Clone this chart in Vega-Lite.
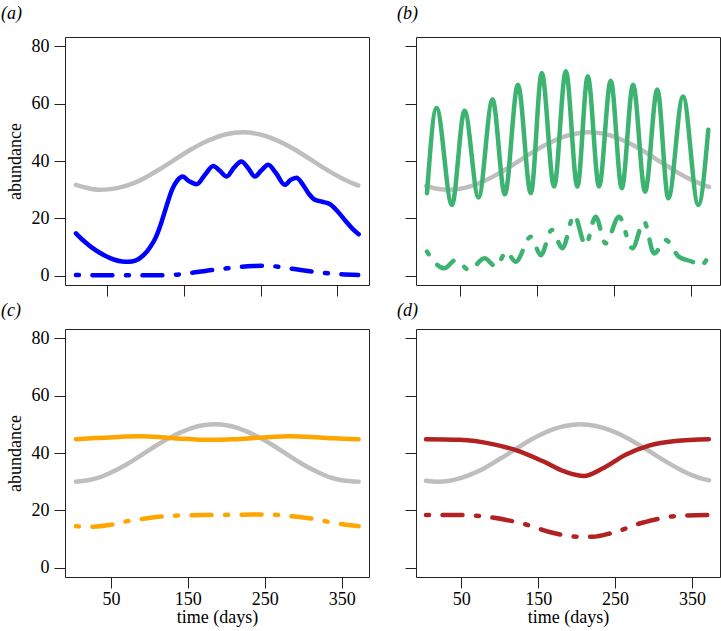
{
  "$schema": "https://vega.github.io/schema/vega-lite/v6.json",
  "padding": {"left": 0, "top": 4, "right": 0, "bottom": 0},
  "background": "white",
  "datasets": {
    "a": [
      {"t": 10, "v": 31.7, "s": "g"}, {"t": 25, "v": 30.6, "s": "g"}, {"t": 40, "v": 30.0, "s": "g"}, {"t": 55, "v": 30.2, "s": "g"}, {"t": 70, "v": 31.0, "s": "g"}, {"t": 85, "v": 32.3, "s": "g"}, {"t": 100, "v": 34.2, "s": "g"}, {"t": 115, "v": 36.5, "s": "g"}, {"t": 130, "v": 39.0, "s": "g"}, {"t": 145, "v": 41.6, "s": "g"}, {"t": 160, "v": 44.1, "s": "g"}, {"t": 175, "v": 46.3, "s": "g"}, {"t": 190, "v": 48.0, "s": "g"}, {"t": 205, "v": 49.3, "s": "g"}, {"t": 227, "v": 50.0, "s": "g"}, {"t": 250, "v": 49.2, "s": "g"}, {"t": 265, "v": 47.9, "s": "g"}, {"t": 280, "v": 46.1, "s": "g"}, {"t": 295, "v": 43.9, "s": "g"}, {"t": 310, "v": 41.4, "s": "g"}, {"t": 325, "v": 38.8, "s": "g"}, {"t": 340, "v": 36.3, "s": "g"}, {"t": 355, "v": 34.1, "s": "g"}, {"t": 370, "v": 32.2, "s": "g"}, {"t": 377, "v": 31.5, "s": "g"},
      {"t": 10, "v": 14.8, "s": "s"}, {"t": 20, "v": 12.2, "s": "s"}, {"t": 30, "v": 10.0, "s": "s"}, {"t": 40, "v": 8.2, "s": "s"}, {"t": 50, "v": 6.7, "s": "s"}, {"t": 60, "v": 5.6, "s": "s"}, {"t": 70, "v": 5.0, "s": "s"}, {"t": 78, "v": 4.9, "s": "s"}, {"t": 88, "v": 5.4, "s": "s"}, {"t": 97, "v": 7.0, "s": "s"}, {"t": 106, "v": 9.8, "s": "s"}, {"t": 114, "v": 13.5, "s": "s"}, {"t": 121, "v": 18.5, "s": "s"}, {"t": 128, "v": 24.5, "s": "s"}, {"t": 135, "v": 30.0, "s": "s"}, {"t": 142, "v": 33.3, "s": "s"}, {"t": 148.7, "v": 34.6, "s": "s"}, {"t": 157, "v": 33.0, "s": "s"}, {"t": 167, "v": 31.9, "s": "s"}, {"t": 178, "v": 35.3, "s": "s"}, {"t": 188.5, "v": 38.3, "s": "s"}, {"t": 197, "v": 36.6, "s": "s"}, {"t": 206, "v": 34.6, "s": "s"}, {"t": 215, "v": 37.5, "s": "s"}, {"t": 225, "v": 39.8, "s": "s"}, {"t": 234, "v": 37.5, "s": "s"}, {"t": 242.6, "v": 34.6, "s": "s"}, {"t": 251, "v": 36.7, "s": "s"}, {"t": 260, "v": 38.7, "s": "s"}, {"t": 270, "v": 35.8, "s": "s"}, {"t": 281.6, "v": 31.7, "s": "s"}, {"t": 289, "v": 33.4, "s": "s"}, {"t": 296.7, "v": 34.2, "s": "s"}, {"t": 305, "v": 31.8, "s": "s"}, {"t": 313, "v": 28.5, "s": "s"}, {"t": 320, "v": 26.6, "s": "s"}, {"t": 330, "v": 25.8, "s": "s"}, {"t": 340, "v": 25.0, "s": "s"}, {"t": 350, "v": 22.5, "s": "s"}, {"t": 360, "v": 19.3, "s": "s"}, {"t": 370, "v": 16.3, "s": "s"}, {"t": 377.6, "v": 14.5, "s": "s"},
      {"t": 10, "v": 0.3, "s": "d"}, {"t": 40, "v": 0.2, "s": "d"}, {"t": 80, "v": 0.2, "s": "d"}, {"t": 120, "v": 0.2, "s": "d"}, {"t": 140, "v": 0.4, "s": "d"}, {"t": 160, "v": 1.0, "s": "d"}, {"t": 180, "v": 1.8, "s": "d"}, {"t": 200, "v": 2.4, "s": "d"}, {"t": 220, "v": 3.0, "s": "d"}, {"t": 240, "v": 3.4, "s": "d"}, {"t": 258, "v": 3.5, "s": "d"}, {"t": 280, "v": 2.9, "s": "d"}, {"t": 300, "v": 2.1, "s": "d"}, {"t": 320, "v": 1.4, "s": "d"}, {"t": 344, "v": 0.7, "s": "d"}, {"t": 377, "v": 0.3, "s": "d"}
    ],
    "b": [
      {"t": 5.5, "v": 31.3, "s": "g"}, {"t": 20, "v": 30.3, "s": "g"}, {"t": 35, "v": 30.0, "s": "g"}, {"t": 50, "v": 30.3, "s": "g"}, {"t": 65, "v": 31.3, "s": "g"}, {"t": 80, "v": 32.9, "s": "g"}, {"t": 95, "v": 34.9, "s": "g"}, {"t": 110, "v": 37.2, "s": "g"}, {"t": 125, "v": 39.8, "s": "g"}, {"t": 140, "v": 42.4, "s": "g"}, {"t": 155, "v": 44.8, "s": "g"}, {"t": 170, "v": 46.8, "s": "g"}, {"t": 185, "v": 48.5, "s": "g"}, {"t": 200, "v": 49.5, "s": "g"}, {"t": 217, "v": 50.0, "s": "g"}, {"t": 230, "v": 49.8, "s": "g"}, {"t": 245, "v": 48.9, "s": "g"}, {"t": 260, "v": 47.4, "s": "g"}, {"t": 275, "v": 45.5, "s": "g"}, {"t": 290, "v": 43.2, "s": "g"}, {"t": 305, "v": 40.6, "s": "g"}, {"t": 320, "v": 38.1, "s": "g"}, {"t": 335, "v": 35.6, "s": "g"}, {"t": 350, "v": 33.5, "s": "g"}, {"t": 365, "v": 31.8, "s": "g"}, {"t": 373.4, "v": 31.0, "s": "g"},
      {"t": 6.8, "v": 28.8, "s": "s"}, {"t": 19.2, "v": 58.5, "s": "s"}, {"t": 39.2, "v": 24.7, "s": "s"}, {"t": 55.6, "v": 57.5, "s": "s"}, {"t": 73.8, "v": 27.3, "s": "s"}, {"t": 92, "v": 61.4, "s": "s"}, {"t": 108, "v": 28.4, "s": "s"}, {"t": 125, "v": 66.6, "s": "s"}, {"t": 141.8, "v": 28.8, "s": "s"}, {"t": 156, "v": 70.7, "s": "s"}, {"t": 172, "v": 31.1, "s": "s"}, {"t": 187.3, "v": 71.3, "s": "s"}, {"t": 202.3, "v": 31.1, "s": "s"}, {"t": 215.8, "v": 69.5, "s": "s"}, {"t": 230.5, "v": 31.1, "s": "s"}, {"t": 245.7, "v": 68.0, "s": "s"}, {"t": 260, "v": 30.5, "s": "s"}, {"t": 274.7, "v": 66.6, "s": "s"}, {"t": 290.3, "v": 29.3, "s": "s"}, {"t": 306.2, "v": 64.9, "s": "s"}, {"t": 320.5, "v": 27.0, "s": "s"}, {"t": 339.6, "v": 62.5, "s": "s"}, {"t": 359.5, "v": 24.7, "s": "s"}, {"t": 372.5, "v": 50.9, "s": "s"},
      {"t": 6.8, "v": 8.4, "s": "d"}, {"t": 29.2, "v": 2.6, "s": "d"}, {"t": 44, "v": 5.5, "s": "d"}, {"t": 62, "v": 2.0, "s": "d"}, {"t": 81.5, "v": 6.1, "s": "d"}, {"t": 96.6, "v": 3.2, "s": "d"}, {"t": 110, "v": 8.4, "s": "d"}, {"t": 122, "v": 4.9, "s": "d"}, {"t": 141.8, "v": 13.6, "s": "d"}, {"t": 154.8, "v": 7.2, "s": "d"}, {"t": 169, "v": 16.0, "s": "d"}, {"t": 183, "v": 9.6, "s": "d"}, {"t": 198, "v": 21.2, "s": "d"}, {"t": 213, "v": 10.7, "s": "d"}, {"t": 226, "v": 20.6, "s": "d"}, {"t": 239, "v": 11.3, "s": "d"}, {"t": 256.4, "v": 20.6, "s": "d"}, {"t": 273.7, "v": 9.6, "s": "d"}, {"t": 288.9, "v": 18.9, "s": "d"}, {"t": 302, "v": 7.8, "s": "d"}, {"t": 317, "v": 12.5, "s": "d"}, {"t": 334.4, "v": 6.6, "s": "d"}, {"t": 351.7, "v": 4.9, "s": "d"}, {"t": 362, "v": 3.5, "s": "d"}, {"t": 372.5, "v": 6.6, "s": "d"}
    ],
    "c": [
      {"t": 4.5, "v": 30.0, "s": "g"}, {"t": 20, "v": 30.5, "s": "g"}, {"t": 35, "v": 31.5, "s": "g"}, {"t": 50, "v": 33.2, "s": "g"}, {"t": 65, "v": 35.2, "s": "g"}, {"t": 80, "v": 37.6, "s": "g"}, {"t": 95, "v": 40.2, "s": "g"}, {"t": 110, "v": 42.8, "s": "g"}, {"t": 125, "v": 45.1, "s": "g"}, {"t": 140, "v": 47.1, "s": "g"}, {"t": 155, "v": 48.7, "s": "g"}, {"t": 170, "v": 49.7, "s": "g"}, {"t": 185, "v": 50.0, "s": "g"}, {"t": 200, "v": 49.7, "s": "g"}, {"t": 215, "v": 48.7, "s": "g"}, {"t": 230, "v": 47.1, "s": "g"}, {"t": 245, "v": 45.1, "s": "g"}, {"t": 260, "v": 42.8, "s": "g"}, {"t": 275, "v": 40.2, "s": "g"}, {"t": 290, "v": 37.6, "s": "g"}, {"t": 305, "v": 35.2, "s": "g"}, {"t": 320, "v": 33.2, "s": "g"}, {"t": 335, "v": 31.5, "s": "g"}, {"t": 350, "v": 30.5, "s": "g"}, {"t": 372, "v": 30.0, "s": "g"},
      {"t": 4.5, "v": 44.8, "s": "s"}, {"t": 30, "v": 45.2, "s": "s"}, {"t": 60, "v": 45.6, "s": "s"}, {"t": 88, "v": 45.8, "s": "s"}, {"t": 115, "v": 45.5, "s": "s"}, {"t": 140, "v": 45.0, "s": "s"}, {"t": 165, "v": 44.65, "s": "s"}, {"t": 187, "v": 44.6, "s": "s"}, {"t": 210, "v": 44.8, "s": "s"}, {"t": 235, "v": 45.2, "s": "s"}, {"t": 258, "v": 45.6, "s": "s"}, {"t": 282, "v": 45.8, "s": "s"}, {"t": 310, "v": 45.6, "s": "s"}, {"t": 340, "v": 45.1, "s": "s"}, {"t": 372, "v": 44.8, "s": "s"},
      {"t": 4.5, "v": 14.5, "s": "d"}, {"t": 22.6, "v": 14.3, "s": "d"}, {"t": 50, "v": 15.0, "s": "d"}, {"t": 72.5, "v": 16.3, "s": "d"}, {"t": 95, "v": 17.2, "s": "d"}, {"t": 122, "v": 18.0, "s": "d"}, {"t": 150, "v": 18.3, "s": "d"}, {"t": 187.7, "v": 18.4, "s": "d"}, {"t": 220, "v": 18.5, "s": "d"}, {"t": 252, "v": 18.6, "s": "d"}, {"t": 282, "v": 18.0, "s": "d"}, {"t": 316.7, "v": 16.9, "s": "d"}, {"t": 338.7, "v": 15.7, "s": "d"}, {"t": 372, "v": 14.5, "s": "d"}
    ],
    "d": [
      {"t": 4.2, "v": 30.3, "s": "g"}, {"t": 20, "v": 30.0, "s": "g"}, {"t": 35, "v": 30.3, "s": "g"}, {"t": 50, "v": 31.3, "s": "g"}, {"t": 65, "v": 32.8, "s": "g"}, {"t": 80, "v": 34.7, "s": "g"}, {"t": 95, "v": 37.1, "s": "g"}, {"t": 110, "v": 39.5, "s": "g"}, {"t": 125, "v": 42.1, "s": "g"}, {"t": 140, "v": 44.5, "s": "g"}, {"t": 155, "v": 46.6, "s": "g"}, {"t": 170, "v": 48.3, "s": "g"}, {"t": 185, "v": 49.4, "s": "g"}, {"t": 205, "v": 50.0, "s": "g"}, {"t": 225, "v": 49.4, "s": "g"}, {"t": 245, "v": 47.8, "s": "g"}, {"t": 260, "v": 46.0, "s": "g"}, {"t": 275, "v": 43.8, "s": "g"}, {"t": 290, "v": 41.4, "s": "g"}, {"t": 305, "v": 38.8, "s": "g"}, {"t": 320, "v": 36.4, "s": "g"}, {"t": 335, "v": 34.2, "s": "g"}, {"t": 350, "v": 32.3, "s": "g"}, {"t": 365, "v": 30.9, "s": "g"}, {"t": 372, "v": 30.5, "s": "g"},
      {"t": 4.2, "v": 44.8, "s": "s"}, {"t": 47.5, "v": 44.6, "s": "s"}, {"t": 90.8, "v": 43.1, "s": "s"}, {"t": 121, "v": 41.0, "s": "s"}, {"t": 155.6, "v": 37.2, "s": "s"}, {"t": 186, "v": 33.4, "s": "s"}, {"t": 209.7, "v": 32.0, "s": "s"}, {"t": 233.5, "v": 34.6, "s": "s"}, {"t": 263.8, "v": 39.4, "s": "s"}, {"t": 294, "v": 42.6, "s": "s"}, {"t": 328.7, "v": 44.2, "s": "s"}, {"t": 372, "v": 44.8, "s": "s"},
      {"t": 4.2, "v": 18.4, "s": "d"}, {"t": 47.5, "v": 18.4, "s": "d"}, {"t": 90.8, "v": 17.5, "s": "d"}, {"t": 134, "v": 15.1, "s": "d"}, {"t": 168.7, "v": 12.2, "s": "d"}, {"t": 203.3, "v": 10.8, "s": "d"}, {"t": 220.6, "v": 10.8, "s": "d"}, {"t": 246.6, "v": 12.2, "s": "d"}, {"t": 285.5, "v": 15.7, "s": "d"}, {"t": 328.7, "v": 18.0, "s": "d"}, {"t": 372, "v": 18.4, "s": "d"}
    ]
  },
  "columns": 2,
  "spacing": {"row": 44, "column": 47},
  "bounds": "flush",
  "concat": [
    {
      "data": {"name": "a"},
      "width": 304, "height": 248,
      "title": {"text": "(a)", "anchor": "start", "frame": "group", "dx": -64, "offset": 5.5, "baseline": "middle"},
      "encoding": {
        "x": {"field": "t", "type": "quantitative", "scale": {"domain": [-4.2, 391], "nice": false, "zero": false}, "axis": {"values": [50, 150, 250, 350], "labels": false, "title": null}},
        "y": {"field": "v", "type": "quantitative", "scale": {"domain": [-3.2, 83.2], "nice": false, "zero": false}, "axis": {"values": [0, 20, 40, 60, 80], "title": "abundance"}}
      },
      "layer": [
        {"transform": [{"filter": "datum.s === 'g'"}], "mark": {"type": "line", "color": "#BEBEBE", "strokeWidth": 4.5, "interpolate": "monotone", "strokeCap": "round"}},
        {"transform": [{"filter": "datum.s === 's'"}], "mark": {"type": "line", "color": "#0000FF", "strokeWidth": 4.5, "interpolate": "monotone", "strokeCap": "round"}},
        {"transform": [{"filter": "datum.s === 'd'"}], "mark": {"type": "line", "color": "#0000FF", "strokeWidth": 4.5, "interpolate": "monotone", "strokeCap": "round", "strokeDash": [3, 13.5, 20, 13.5]}}
      ]
    },
    {
      "data": {"name": "b"},
      "width": 304, "height": 248,
      "title": {"text": "(b)", "anchor": "start", "frame": "group", "dx": -19, "offset": 5.5, "baseline": "middle"},
      "encoding": {
        "x": {"field": "t", "type": "quantitative", "scale": {"domain": [-7.5, 387.7], "nice": false, "zero": false}, "axis": {"values": [50, 150, 250, 350], "labels": false, "title": null}},
        "y": {"field": "v", "type": "quantitative", "scale": {"domain": [-3.2, 83.2], "nice": false, "zero": false}, "axis": {"values": [0, 20, 40, 60, 80], "labels": false, "title": null}}
      },
      "layer": [
        {"transform": [{"filter": "datum.s === 'g'"}], "mark": {"type": "line", "color": "#BEBEBE", "strokeWidth": 4.5, "interpolate": "monotone", "strokeCap": "round"}},
        {"transform": [{"filter": "datum.s === 's'"}], "mark": {"type": "line", "color": "#3CB371", "strokeWidth": 4.5, "interpolate": "monotone", "strokeCap": "round"}},
        {"transform": [{"filter": "datum.s === 'd'"}], "mark": {"type": "line", "color": "#3CB371", "strokeWidth": 4.5, "interpolate": "monotone", "strokeCap": "round", "strokeDash": [3, 13.5, 20, 13.5]}}
      ]
    },
    {
      "data": {"name": "c"},
      "width": 304, "height": 248,
      "title": {"text": "(c)", "anchor": "start", "frame": "group", "dx": -64, "offset": 0, "baseline": "middle"},
      "encoding": {
        "x": {"field": "t", "type": "quantitative", "scale": {"domain": [-9.7, 385.5], "nice": false, "zero": false}, "axis": {"values": [50, 150, 250, 350], "title": "time (days)"}},
        "y": {"field": "v", "type": "quantitative", "scale": {"domain": [-3.2, 83.2], "nice": false, "zero": false}, "axis": {"values": [0, 20, 40, 60, 80], "title": "abundance"}}
      },
      "layer": [
        {"transform": [{"filter": "datum.s === 'g'"}], "mark": {"type": "line", "color": "#BEBEBE", "strokeWidth": 4.5, "interpolate": "monotone", "strokeCap": "round"}},
        {"transform": [{"filter": "datum.s === 's'"}], "mark": {"type": "line", "color": "#FFA500", "strokeWidth": 4.5, "interpolate": "monotone", "strokeCap": "round"}},
        {"transform": [{"filter": "datum.s === 'd'"}], "mark": {"type": "line", "color": "#FFA500", "strokeWidth": 4.5, "interpolate": "monotone", "strokeCap": "round", "strokeDash": [3, 13.5, 20, 13.5]}}
      ]
    },
    {
      "data": {"name": "d"},
      "width": 304, "height": 248,
      "title": {"text": "(d)", "anchor": "start", "frame": "group", "dx": -19, "offset": 0, "baseline": "middle"},
      "encoding": {
        "x": {"field": "t", "type": "quantitative", "scale": {"domain": [-8.8, 386.4], "nice": false, "zero": false}, "axis": {"values": [50, 150, 250, 350], "title": "time (days)"}},
        "y": {"field": "v", "type": "quantitative", "scale": {"domain": [-3.2, 83.2], "nice": false, "zero": false}, "axis": {"values": [0, 20, 40, 60, 80], "labels": false, "title": null}}
      },
      "layer": [
        {"transform": [{"filter": "datum.s === 'g'"}], "mark": {"type": "line", "color": "#BEBEBE", "strokeWidth": 4.5, "interpolate": "monotone", "strokeCap": "round"}},
        {"transform": [{"filter": "datum.s === 's'"}], "mark": {"type": "line", "color": "#B22222", "strokeWidth": 4.5, "interpolate": "monotone", "strokeCap": "round"}},
        {"transform": [{"filter": "datum.s === 'd'"}], "mark": {"type": "line", "color": "#B22222", "strokeWidth": 4.5, "interpolate": "monotone", "strokeCap": "round", "strokeDash": [3, 13.5, 20, 13.5]}}
      ]
    }
  ],
  "config": {
    "font": "Liberation Serif",
    "view": {"stroke": "#222222", "strokeWidth": 1},
    "title": {"font": "Liberation Serif", "fontSize": 18, "fontStyle": "italic", "fontWeight": "normal", "color": "#000000"},
    "axis": {
      "domain": false, "grid": false,
      "tickColor": "#222222", "tickSize": 11, "tickWidth": 1,
      "labelFont": "Liberation Serif", "labelFontSize": 18, "labelColor": "#000000", "labelFlush": false, "labelOverlap": false,
      "titleFont": "Liberation Serif", "titleFontSize": 18, "titleFontWeight": "normal", "titleColor": "#000000"
    },
    "axisY": {"labelPadding": 5, "titlePadding": 7},
    "axisX": {"labelPadding": 2, "titlePadding": 0}
  }
}
